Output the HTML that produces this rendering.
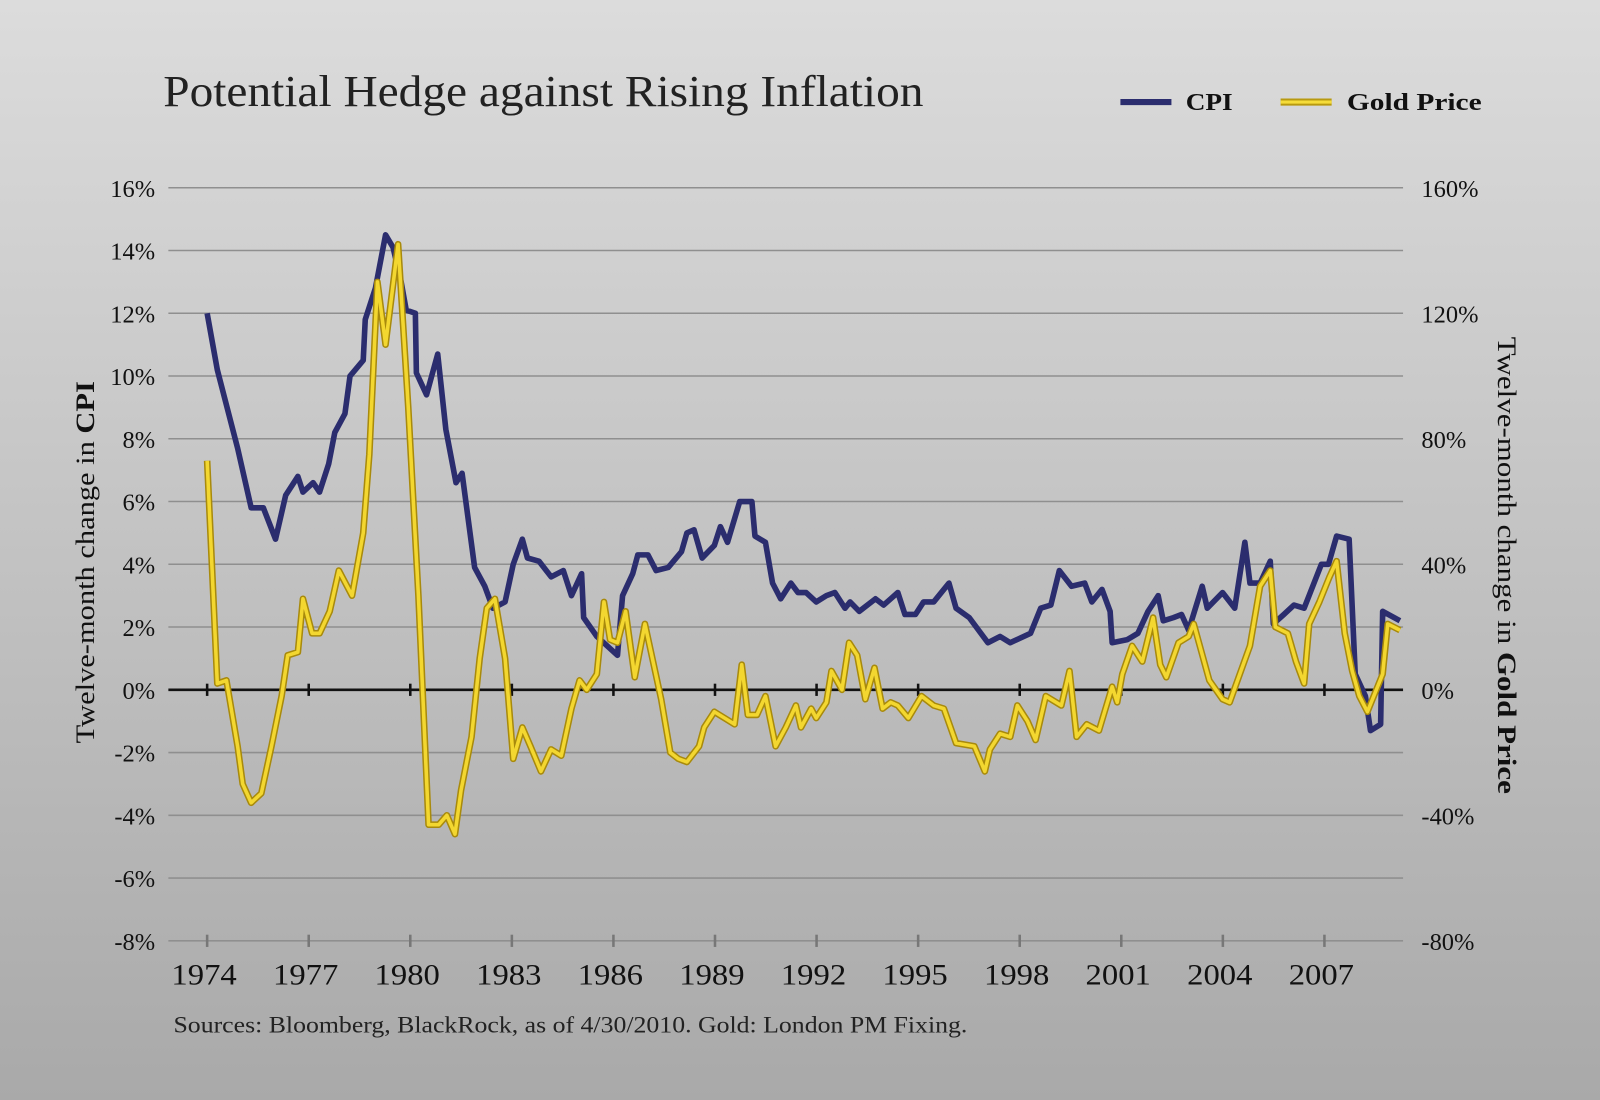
<!DOCTYPE html>
<html><head><meta charset="utf-8"><style>
html,body{margin:0;padding:0;width:1600px;height:1100px;overflow:hidden}
svg{display:block}
text{font-family:"Liberation Serif",serif}
</style></head><body>
<svg id="chart" width="1600" height="1100" viewBox="0 0 1568 1078" preserveAspectRatio="none" xmlns="http://www.w3.org/2000/svg">
<defs><linearGradient id="bg" x1="0" y1="0" x2="0" y2="1"><stop offset="0" stop-color="#dcdcdc"/><stop offset="1" stop-color="#a9a9a9"/></linearGradient></defs>
<rect x="0" y="0" width="1568" height="1078" fill="url(#bg)"/>
<text x="160" y="104" font-size="44" fill="#222" textLength="745" lengthAdjust="spacingAndGlyphs">Potential Hedge against Rising Inflation</text>
<g>
<g><line x1="1098" y1="100" x2="1148" y2="100" stroke="#2b2d6e" stroke-width="6"/><text x="1162" y="108" font-size="24" font-weight="bold" fill="#111" textLength="46" lengthAdjust="spacingAndGlyphs">CPI</text></g>
<g><line x1="1255" y1="100" x2="1305" y2="100" stroke="#b89a10" stroke-width="7"/><line x1="1255" y1="100" x2="1305" y2="100" stroke="#f5dc3a" stroke-width="3"/><text x="1320" y="108" font-size="24" font-weight="bold" fill="#111" textLength="132" lengthAdjust="spacingAndGlyphs">Gold Price</text></g>
</g>
<g id="grid"></g><g id="axes"></g><g id="series"></g>
<text transform="translate(92,551) rotate(-90)" text-anchor="middle" font-size="26" fill="#111" textLength="355" lengthAdjust="spacingAndGlyphs">Twelve-month change in <tspan font-weight="bold">CPI</tspan></text>
<text transform="translate(1468,554) rotate(90)" text-anchor="middle" font-size="26" fill="#111" textLength="448" lengthAdjust="spacingAndGlyphs">Twelve-month change in <tspan font-weight="bold">Gold Price</tspan></text>
<text x="170" y="1012" font-size="23" fill="#222" textLength="778" lengthAdjust="spacingAndGlyphs">Sources: Bloomberg, BlackRock, as of 4/30/2010. Gold: London PM Fixing.</text>
</svg>
<script>
const leftTicks=[16,14,12,10,8,6,4,2,0,-2,-4,-6,-8];
const rightTicks=[160,120,80,40,0,-40,-80];
const yearTicks=[1974,1977,1980,1983,1986,1989,1992,1995,1998,2001,2004,2007];
const cpiYearsSince1974=[0,.30,.90,1.30,1.66,2.02,2.32,2.68,2.83,3.13,3.32,3.59,3.77,4.07,4.22,4.61,4.67,4.97,5.27,5.49,5.73,5.88,6.15,6.18,6.48,6.81,7.05,7.35,7.53,7.90,8.20,8.44,8.80,9.04,9.31,9.46,9.80,10.16,10.52,10.76,11.06,11.12,11.51,12.12,12.27,12.57,12.72,13.02,13.26,13.62,14.01,14.17,14.38,14.62,14.98,15.16,15.37,15.73,16.09,16.18,16.49,16.70,16.94,17.24,17.45,17.69,17.99,18.29,18.54,18.84,18.99,19.26,19.74,19.98,20.40,20.61,20.92,21.16,21.46,21.91,22.12,22.51,23.06,23.42,23.72,24.32,24.62,24.92,25.17,25.53,25.92,26.13,26.43,26.67,26.73,27.18,27.49,27.79,28.09,28.24,28.54,28.78,28.99,29.39,29.54,29.99,30.35,30.65,30.80,31.10,31.40,31.49,31.80,32.10,32.40,32.91,33.12,33.36,33.73,33.91,34.21,34.36,34.66,34.72,35.23];
const cpiValues=[12.0,10.2,7.7,5.8,5.8,4.8,6.2,6.8,6.3,6.6,6.3,7.2,8.2,8.8,10.0,10.5,11.8,12.8,14.5,14.1,13.0,12.1,12.0,10.1,9.4,10.7,8.3,6.6,6.9,3.9,3.3,2.6,2.8,4.0,4.8,4.2,4.1,3.6,3.8,3.0,3.7,2.3,1.7,1.1,3.0,3.7,4.3,4.3,3.8,3.9,4.4,5.0,5.1,4.2,4.6,5.2,4.7,6.0,6.0,4.9,4.7,3.4,2.9,3.4,3.1,3.1,2.8,3.0,3.1,2.6,2.8,2.5,2.9,2.7,3.1,2.4,2.4,2.8,2.8,3.4,2.6,2.3,1.5,1.7,1.5,1.8,2.6,2.7,3.8,3.3,3.4,2.8,3.2,2.5,1.5,1.6,1.8,2.5,3.0,2.2,2.3,2.4,1.9,3.3,2.6,3.1,2.6,4.7,3.4,3.4,4.1,2.1,2.4,2.7,2.6,4.0,4.0,4.9,4.8,0.5,-0.2,-1.3,-1.1,2.5,2.2];
const goldYearsSince1974=[0,.30,.57,.90,1.05,1.30,1.60,1.90,2.20,2.38,2.68,2.83,3.10,3.32,3.62,3.89,4.28,4.61,4.79,5.03,5.27,5.64,5.94,6.24,6.54,6.84,7.08,7.32,7.50,7.81,8.05,8.26,8.50,8.80,9.04,9.31,9.55,9.86,10.16,10.46,10.76,11.00,11.21,11.51,11.72,11.90,12.12,12.36,12.63,12.93,13.41,13.68,13.92,14.17,14.53,14.68,14.98,15.28,15.58,15.79,15.97,16.24,16.49,16.79,17.09,17.39,17.54,17.84,17.99,18.29,18.44,18.75,18.96,19.20,19.44,19.71,19.95,20.19,20.40,20.71,21.10,21.46,21.76,22.12,22.66,22.97,23.12,23.42,23.72,23.93,24.23,24.47,24.77,25.23,25.47,25.68,25.98,26.34,26.73,26.88,27.03,27.32,27.62,27.94,28.15,28.33,28.69,28.99,29.14,29.60,29.99,30.20,30.50,30.80,31.10,31.40,31.55,31.92,32.16,32.40,32.55,32.85,33.15,33.36,33.60,33.82,34.03,34.27,34.72,34.87,35.23];
const goldValues=[73,2,3,-18,-30,-36,-33,-18,-2,11,12,29,18,18,25,38,30,50,75,130,110,142,90,30,-43,-43,-40,-46,-32,-15,10,26,29,10,-22,-12,-18,-26,-19,-21,-6,3,0,5,28,16,15,25,4,21,-3,-20,-22,-23,-18,-12,-7,-9,-11,8,-8,-8,-2,-18,-12,-5,-12,-6,-9,-4,6,0,15,11,-3,7,-6,-4,-5,-9,-2,-5,-6,-17,-18,-26,-19,-14,-15,-5,-10,-16,-2,-5,6,-15,-11,-13,1,-4,5,14,9,23,8,4,15,17,21,3,-3,-4,5,14,33,38,20,18,9,2,21,28,36,41,18,6,-2,-7,5,21,19];

const NS="http://www.w3.org/2000/svg";
const X0=203,XPY=33.18,Y0=676,PPU=30.75;
const xs=o=>X0+o*XPY;
const yL=v=>Y0-v*PPU;
const yR=v=>Y0-v/10*PPU;
function mk(tag,attrs,parent){const e=document.createElementNS(NS,tag);for(const k in attrs)e.setAttribute(k,attrs[k]);parent.appendChild(e);return e;}
const grid=document.getElementById('grid'),axes=document.getElementById('axes'),series=document.getElementById('series');
leftTicks.forEach(v=>{
  if(v!==0){const l=mk('line',{x1:165,x2:1375,y1:yL(v),y2:yL(v),stroke:'#8f8f8f','stroke-width':1.5},grid);
  
  }
  const t=mk('text',{x:152,y:yL(v)+9,'text-anchor':'end','font-size':24,fill:'#111'},axes);t.textContent=v+'%';
  
  
});
rightTicks.forEach(v=>{
  const t=mk('text',{x:1393,y:yR(v)+9,'font-size':24,fill:'#111'},axes);t.textContent=v+'%';
  
  
});
const zl=mk('line',{x1:165,x2:1375,y1:Y0,y2:Y0,stroke:'#111','stroke-width':2.5},axes);


yearTicks.forEach(y=>{
  const x=xs(y-1974);
  mk('line',{x1:x,x2:x,y1:Y0-6,y2:Y0+6,stroke:'#111','stroke-width':2.5},axes);
  mk('line',{x1:x,x2:x,y1:yL(-8)-6,y2:yL(-8)+6,stroke:'#777','stroke-width':2.5},axes);
  const t=mk('text',{x:x-3,y:965,'text-anchor':'middle','font-size':29,fill:'#111',textLength:64,lengthAdjust:'spacingAndGlyphs'},axes);t.textContent=y;
  
  
});
const cpiPts=cpiValues.map((v,i)=>xs(cpiYearsSince1974[i])+','+yL(v)).join(' ');
const goldPts=goldValues.map((v,i)=>xs(goldYearsSince1974[i])+','+yR(v)).join(' ');
const cp=mk('polyline',{points:cpiPts,fill:'none',stroke:'#2b2d6e','stroke-width':5.5,'stroke-linejoin':'round'},series);


const g1=mk('polyline',{points:goldPts,fill:'none',stroke:'#a88a0c','stroke-width':6.5,'stroke-linejoin':'round'},series);


const g2=mk('polyline',{points:goldPts,fill:'none',stroke:'#f3d730','stroke-width':3.5,'stroke-linejoin':'round'},series);


</script>
</body></html>
